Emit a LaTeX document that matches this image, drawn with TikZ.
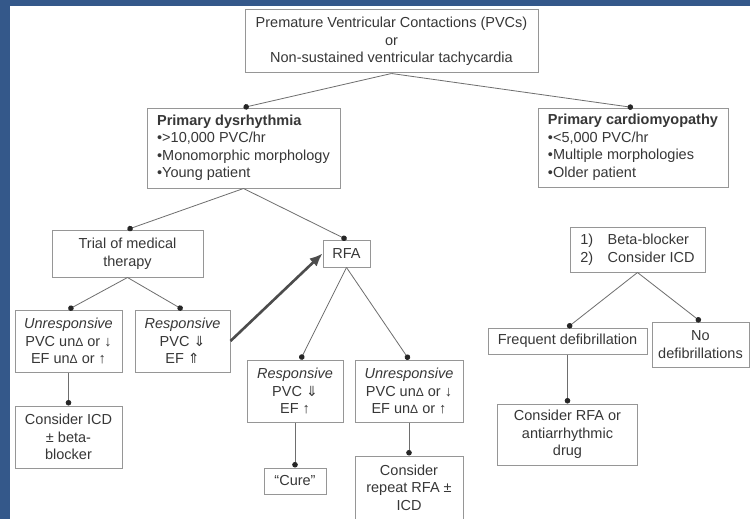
\documentclass[tikz,border=0pt]{standalone}
\usepackage{fontspec}
\setmainfont{Liberation Sans}
\newfontfamily\arrowfont{DejaVu Sans}
\usetikzlibrary{arrows.meta,positioning}
\definecolor{FrameBlue}{RGB}{52,88,138}
\definecolor{BoxGray}{RGB}{150,150,150}
\definecolor{LineGray}{RGB}{110,110,110}
\definecolor{TextGray}{RGB}{55,55,55}
\newcommand{\dlt}{{\fontsize{12}{12}\selectfont Δ}}
\newcommand{\thickdown}{{\arrowfont\fontsize{14}{14}\selectfont ⇓}}
\newcommand{\thickup}{{\arrowfont\fontsize{14}{14}\selectfont ⇑}}

\begin{document}
\begin{tikzpicture}[x=1pt, y=-1pt,
    box/.style={draw=BoxGray, line width=1pt, fill=white, text=TextGray, align=center, inner sep=3pt, font=\fontsize{14.5}{17.5}\selectfont},
    arr/.style={-{Circle[length=5.5pt, black!85]}, LineGray, line width=0.8pt},
    bigarr/.style={-{Latex[length=13pt,width=11pt]}, line width=2.6pt, black!70}
  ]
  \fill[FrameBlue] (0,0) rectangle (750,519);
  \fill[white] (10,6) rectangle (750,519);
  \useasboundingbox (0,0) rectangle (750,519);

  \node[box, minimum width=293pt, minimum height=63pt] (top) at (391.5,41.5) {Premature Ventricular Contactions (PVCs)\\ or\\ Non-sustained ventricular tachycardia};
  \node[box, align=left, minimum width=193pt, minimum height=80pt] (dys) at (243.5,148) {\textbf{Primary dysrhythmia}\\ •>10,000 PVC/hr\\ •Monomorphic morphology\\ •Young patient};
  \node[box, align=left, minimum width=190pt, minimum height=79pt] (cmp) at (633,147.5) {\textbf{Primary cardiomyopathy}\\ •<5,000 PVC/hr\\ •Multiple morphologies\\ •Older patient};

  \node[box, minimum width=151pt, minimum height=47pt] (trial) at (127.5,253.5) {Trial of medical\\ therapy};
  \node[box, minimum width=47pt, minimum height=27pt] (rfa) at (346.5,253.5) {RFA};
  \node[box, align=left, minimum width=135pt, minimum height=45pt] (beta) at (637.5,249.5) {1)\quad Beta-blocker\\ 2)\quad Consider ICD};

  \node[box, minimum width=107pt, minimum height=62pt] (unrL) at (68.5,341) {\textit{Unresponsive}\\ PVC un\dlt{} or ↓\\ EF un\dlt{} or ↑};
  \node[box, minimum width=95pt, minimum height=62pt] (resL) at (182.5,341) {\textit{Responsive}\\ PVC \thickdown\\ EF \thickup};
  \node[box, minimum width=96pt, minimum height=62pt] (resM) at (295,391) {\textit{Responsive}\\ PVC \thickdown\\ EF ↑};
  \node[box, minimum width=108pt, minimum height=62pt] (unrM) at (409,391) {\textit{Unresponsive}\\ PVC un\dlt{} or ↓\\ EF un\dlt{} or ↑};
  \node[box, minimum width=159pt, minimum height=26pt] (freq) at (567.5,341) {Frequent defibrillation};
  \node[box, minimum width=97pt, minimum height=45pt] (nodef) at (700.5,344.5) {No\\ defibrillations};

  \node[box, minimum width=107pt, minimum height=62pt, below=33pt of unrL] (icd) {Consider ICD\\ ± beta-\\ blocker};
  \node[box, minimum width=62pt, minimum height=26pt, below=45pt of resM] (cure) {“Cure”};
  \node[box, minimum width=108pt, minimum height=63pt, below=33pt of unrM] (rep) {Consider\\ repeat RFA ±\\ ICD};
  \node[box, minimum width=140pt, minimum height=61pt, below=49pt of freq] (crfa) {Consider RFA or\\ antiarrhythmic\\ drug};

  \draw[arr] (top.south) -- (dys.north);
  \draw[arr] (top.south) -- (cmp.north);
  \draw[arr] (dys.south) -- (trial.north);
  \draw[arr] (dys.south) -- (rfa.north);
  \draw[arr] (trial.south) -- (unrL.north);
  \draw[arr] (trial.south) -- (resL.north);
  \draw[arr] (unrL) -- (icd);
  \draw[bigarr] (resL.east) -- (rfa.west);
  \draw[arr] (rfa.south) -- (resM.80);
  \draw[arr] (rfa.south) -- (unrM.north);
  \draw[arr] (resM) -- (cure);
  \draw[arr] (unrM) -- (rep);
  \draw[arr] (beta.south) -- (freq.north);
  \draw[arr] (beta.south) -- (nodef.north);
  \draw[arr] (freq) -- (crfa);
\end{tikzpicture}
\end{document}
